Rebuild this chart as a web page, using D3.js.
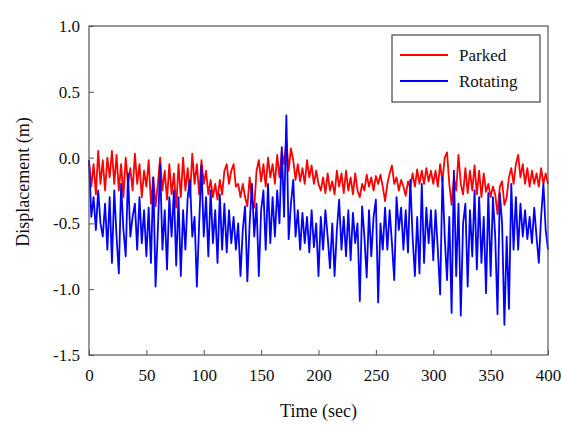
<!DOCTYPE html>
<html><head><meta charset="utf-8">
<script src="https://cdn.jsdelivr.net/npm/d3@7"></script>
<style>body{margin:0;background:#fff}svg{display:block}</style>
</head><body>
<svg id="chart" width="562" height="426"></svg>
<script>
const timeStep = 2; // seconds between samples
const parked = [
 -0.02,-0.22,-0.05,-0.28,0.05,-0.2,-0.02,-0.25,0.0,-0.15,
 0.05,-0.2,0.02,-0.25,-0.05,-0.3,0.0,-0.2,-0.08,-0.25,
 0.03,-0.2,-0.05,-0.3,-0.1,-0.22,-0.02,-0.35,-0.15,-0.37,
 -0.2,0.0,-0.25,-0.1,-0.32,-0.05,-0.28,-0.12,-0.38,-0.05,
 -0.3,0.0,-0.25,-0.08,-0.3,0.03,-0.2,-0.05,-0.28,-0.02,
 -0.2,-0.1,-0.28,-0.17,-0.3,-0.2,-0.32,-0.17,-0.28,-0.1,
 -0.05,-0.2,-0.1,-0.05,-0.22,-0.2,-0.3,-0.2,-0.3,-0.37,
 -0.15,-0.32,-0.38,-0.1,-0.02,-0.18,-0.05,-0.22,0.0,-0.15,
 -0.05,-0.2,0.02,-0.15,0.05,-0.05,0.14,-0.1,0.07,-0.02,
 -0.17,-0.05,-0.18,-0.08,-0.2,-0.02,-0.15,-0.06,-0.2,-0.1,
 -0.2,-0.25,-0.15,-0.27,-0.12,-0.25,-0.18,-0.28,-0.1,-0.22,
 -0.12,-0.27,-0.1,-0.25,-0.15,-0.28,-0.12,-0.25,-0.3,-0.2,
 -0.25,-0.13,-0.22,-0.15,-0.25,-0.14,-0.2,-0.13,-0.22,-0.33,
 -0.2,-0.12,-0.06,-0.2,-0.15,-0.25,-0.17,-0.22,-0.29,-0.18,
 -0.23,-0.12,-0.22,-0.09,-0.2,-0.1,-0.2,-0.08,-0.18,-0.1,
 -0.2,-0.1,-0.22,-0.05,-0.18,0.0,0.04,-0.2,-0.36,-0.15,
 -0.25,0.02,-0.2,-0.28,-0.08,-0.27,-0.1,-0.25,-0.06,-0.28,
 -0.1,-0.3,-0.12,-0.26,-0.2,-0.3,-0.22,-0.28,-0.43,-0.22,
 -0.18,-0.36,-0.3,-0.15,-0.08,-0.2,-0.05,0.02,-0.15,-0.05,
 -0.2,-0.08,-0.22,-0.1,-0.2,-0.12,-0.22,-0.08,-0.2,-0.12,-0.2
];
const rotating = [
 -0.02,-0.45,-0.3,-0.55,-0.25,-0.5,-0.6,-0.35,-0.7,-0.3,
 -0.8,-0.25,-0.6,-0.88,-0.2,-0.55,-0.75,-0.12,-0.6,-0.45,
 -0.35,-0.7,-0.3,-0.65,-0.4,-0.75,-0.38,-0.8,-0.15,-0.98,
 -0.55,-0.05,-0.7,-0.4,-0.85,-0.3,-0.6,-0.25,-0.82,-0.3,
 -0.9,-0.4,-0.7,-0.3,-0.17,-0.6,-0.45,-0.98,-0.5,-0.06,
 -0.6,-0.3,-0.75,-0.25,-0.65,-0.4,-0.8,-0.28,-0.7,-0.35,
 -0.72,-0.4,-0.65,-0.45,-0.7,-0.5,-0.9,-0.55,-0.37,-0.94,
 -0.5,-0.2,-0.6,-0.35,-0.9,-0.4,-0.25,-0.7,-0.2,-0.65,
 -0.3,-0.6,-0.25,-0.5,0.08,-0.45,0.32,-0.62,-0.35,-0.17,
 -0.6,-0.4,-0.7,-0.42,-0.65,-0.45,-0.72,-0.4,-0.68,-0.5,
 -0.9,-0.45,-0.7,-0.4,-0.6,-0.84,-0.5,-0.9,-0.55,-0.32,
 -0.7,-0.45,-0.75,-0.4,-0.78,-0.42,-0.65,-0.5,-1.09,-0.37,
 -0.6,-0.91,-0.4,-0.75,-0.45,-0.32,-1.1,-0.5,-0.7,-0.38,
 -0.7,-0.4,-0.65,-0.93,-0.3,-0.55,-0.38,-0.7,-0.4,-0.72,
 -0.17,-0.6,-0.9,-0.45,-0.88,-0.2,-0.8,-0.38,-0.65,-0.4,
 -0.78,-0.4,-0.7,-1.04,-0.15,-0.6,-0.93,-0.45,-1.18,-0.1,
 -0.9,-0.35,-1.2,-0.5,-0.35,-0.98,-0.4,-0.75,-0.25,-0.85,
 -0.3,-0.8,-0.45,-1.03,-0.27,-0.9,-0.3,-0.6,-1.19,-0.27,
 -0.5,-1.27,-0.6,-1.15,-0.2,-0.7,-0.3,-0.7,-0.35,-0.6,
 -0.4,-0.62,-0.45,-0.65,-0.38,-0.6,-0.8,-0.45,-0.2,-0.55,-0.7
];
const xTicks = [0,50,100,150,200,250,300,350,400];
const yTicks = [-1.5,-1.0,-0.5,0.0,0.5,1.0];
const yTickLabels = ["-1.5","-1.0","-0.5","0.0","0.5","1.0"];
const seriesNames = ["Parked","Rotating"];
const seriesColors = ["#ff0000","#0000ff"];

const svg = d3.select("#chart");
const L = 89, R = 548, T = 26, B = 355;
const font = "'Liberation Serif','Times New Roman',serif";
const x = d3.scaleLinear().domain([0,400]).range([L,R]);
const y = d3.scaleLinear().domain([-1.5,1.0]).range([B,T]);

const line = d3.line().x((d,i)=>x(i*timeStep)).y(d=>y(d));
[parked, rotating].forEach((s,k)=>{
  svg.append("path").datum(s).attr("d",line)
    .attr("fill","none").attr("stroke",seriesColors[k]).attr("stroke-width",1.8)
    .attr("stroke-linejoin","round");
});

const axisColor = "#555";
const xAxis = svg.append("g").attr("transform",`translate(0,${B})`)
  .call(d3.axisBottom(x).tickValues(xTicks).tickSizeInner(-5).tickSizeOuter(0).tickPadding(14).tickFormat(d3.format("d")));
const yAxis = svg.append("g").attr("transform",`translate(${L},0)`)
  .call(d3.axisLeft(y).tickValues(yTicks).tickSizeInner(-5).tickSizeOuter(0).tickPadding(9)
    .tickFormat((d,i)=>yTickLabels[i]));
[xAxis,yAxis].forEach(g=>{
  g.select(".domain").remove();
  g.selectAll("line").attr("stroke",axisColor).attr("stroke-width",1);
  g.selectAll("text").attr("font-family",font).attr("font-size",17).attr("fill","#111");
});
svg.append("rect").attr("x",L).attr("y",T).attr("width",R-L).attr("height",B-T)
  .attr("fill","none").attr("stroke",axisColor).attr("stroke-width",1.2);

svg.append("text").attr("x",(L+R)/2).attr("y",417).attr("text-anchor","middle")
  .attr("font-family",font).attr("font-size",18).attr("fill","#111").text("Time (sec)");
svg.append("text").attr("transform","translate(29,182) rotate(-90)").attr("text-anchor","middle")
  .attr("font-family",font).attr("font-size",18).attr("fill","#111").text("Displacement (m)");

const lg = svg.append("g");
lg.append("rect").attr("x",392).attr("y",35).attr("width",148).attr("height",67)
  .attr("fill","#fff").attr("stroke","#444").attr("stroke-width",1.2);
seriesNames.forEach((n,i)=>{
  const yy = 55 + i*26;
  lg.append("line").attr("x1",400).attr("x2",448).attr("y1",yy).attr("y2",yy)
    .attr("stroke",seriesColors[i]).attr("stroke-width",1.8);
  lg.append("text").attr("x",459).attr("y",yy+6).attr("font-family",font).attr("font-size",17)
    .attr("fill","#111").text(n);
});
</script>
</body></html>
